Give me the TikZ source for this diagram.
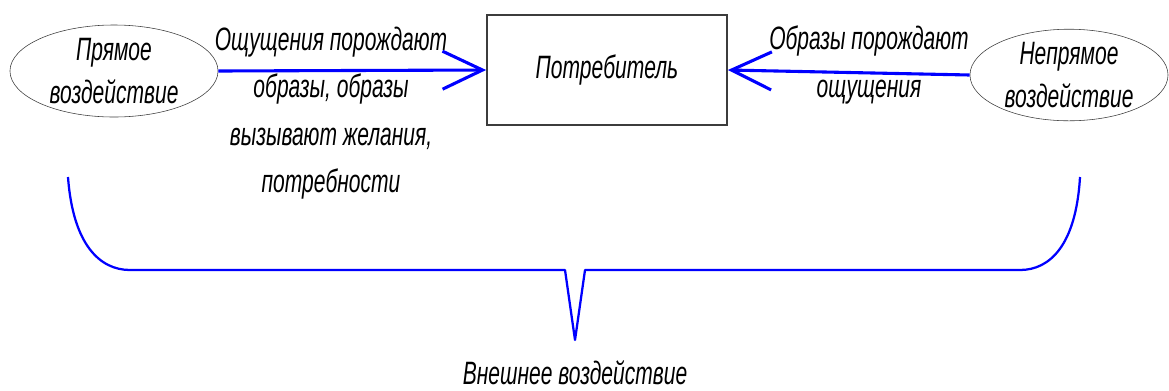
\documentclass[tikz,border=0pt]{standalone}
\usepackage{fontspec}
\setmainfont{Liberation Sans}[FakeStretch=0.65]
\usepackage{tikz}
\usetikzlibrary{arrows.meta,shapes.geometric}
\definecolor{flowclr}{RGB}{0,0,255}
\definecolor{rimclr}{RGB}{60,60,60}
\tikzset{
    impact/.style={ellipse,draw=rimclr,thin,fill=white,
                   minimum width=5.2cm,minimum height=2.3cm,inner sep=0pt,
                   align=center,font=\itshape\fontsize{23}{30}\selectfont},
    buyer/.style={rectangle,draw=rimclr,line width=1.2pt,
                  minimum width=6cm,minimum height=2.75cm,
                  font=\itshape\fontsize{23}{24}\selectfont},
    note/.style={align=center,inner sep=0pt,
                 font=\itshape\fontsize{23}{33.8}\selectfont},
    flow/.style={draw=flowclr,line width=2.2pt,
                 -{Straight Barb[length=1cm,width=0.95cm,line width=2.2pt]}},
    brace/.style={draw=flowclr,line width=1.6pt,line join=round},
}

\begin{document}
\begin{tikzpicture}[x=0.025cm,y=-0.025cm]
\useasboundingbox (0,0) rectangle (1169,390);
% nodes
\node[impact] (direct) at (114,71) {Прямое\\воздействие};
\node[impact,minimum width=4.95cm,minimum height=2.25cm] (indirect) at (1069,75) {Непрямое\\воздействие};
\node[buyer] (consumer) at (607,70) {Потребитель};
% arrows with labels
\draw[flow] (direct.east) -- (consumer.west);
\draw[flow] (indirect.west) -- (consumer.east);
\node[note] (leftnote) at (331,113) {Ощущения порождают\\образы, образы\\вызывают желания,\\потребности};
\node[note] (rightnote) at (869,65) {Образы порождают\\ощущения};
% brace
\coordinate (bl) at (68,177);
\coordinate (br) at (1080,177);
\coordinate (tip) at (575,340);
\path[brace] (bl) .. controls (73,245) and (100,270) .. (130,270)
  -- (565,270) -- (tip) -- (585,270) -- (1020,270)
  .. controls (1050,270) and (1076,245) .. (br);
\node[note] (outer) at (575,373) {Внешнее воздействие};
\end{tikzpicture}
\end{document}
